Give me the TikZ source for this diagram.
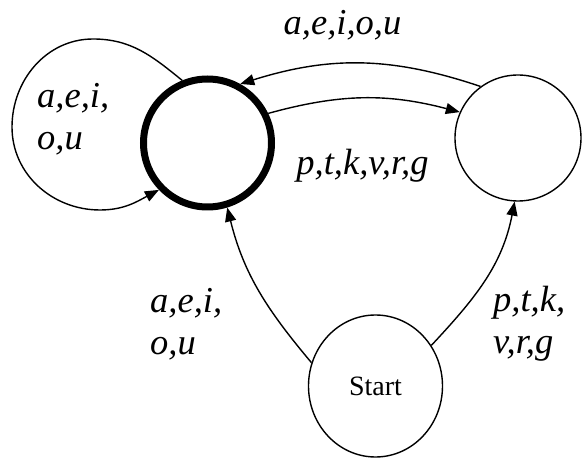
\documentclass[tikz,border=0pt]{standalone}
\usepackage{fontspec}
\setmainfont{Liberation Serif}
\usetikzlibrary{arrows.meta,shapes.geometric}
\begin{document}
\begin{tikzpicture}[x=1pt,y=1pt,
  state/.style={circle,draw,line width=1.4pt,inner sep=0pt},
  edge/.style={line width=1.4pt,-{Triangle[length=14pt,width=11pt]}},
  lab/.style={font=\fontsize{36.5}{42}\selectfont\itshape,inner sep=0pt,align=left}]
\useasboundingbox (0,0) rectangle (582,458);
\node[state,line width=7pt,minimum size=128pt] (acc) at (207.5,315) {};
\node[state,minimum size=126pt] (right) at (518,320) {};
\node[ellipse,draw,line width=1.4pt,inner sep=0pt,minimum width=134pt,minimum height=142pt,font=\fontsize{28}{30}\selectfont] (start) at (375.5,72) {Start};
\draw[edge] (right.126) to[bend right=18] (acc.61);
\draw[edge] (acc.26) to[bend left=15] (right.156);
\draw[edge] (start.160) to[out=130,in=284] (acc.287);
\draw[edge] (start.36) to[out=47,in=259] (right.267);
\coordinate (lt) at (93,419);
\coordinate (ll) at (12,331);
\coordinate (lb) at (100,248);
\draw[edge] (acc.112) to[out=141,in=0] (lt) to[out=180,in=90] (ll) to[out=270,in=180] (lb) to[out=0,in=208] (acc.224);
\node[lab,anchor=base] (l1) at (342.5,423) {a,e,i,o,u};
\node[lab,anchor=base] (l2) at (362.5,283) {p,t,k,v,r,g};
\node[lab,anchor=base west] (l3) at (37,308) {a,e,i,\\o,u};
\node[lab,anchor=base west] (l4) at (150,103) {a,e,i,\\o,u};
\node[lab,anchor=base west] (l5) at (493,104.7) {p,t,k,\\v,r,g};
\end{tikzpicture}
\end{document}
